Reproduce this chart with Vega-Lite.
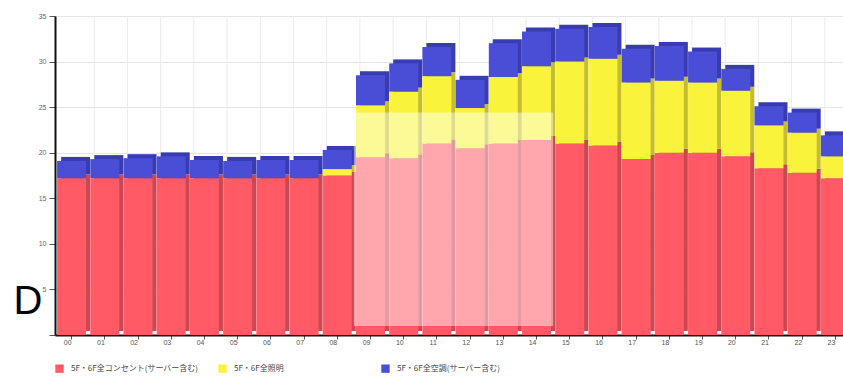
{
  "$schema": "https://vega.github.io/schema/vega-lite/v6.json",
  "width": 788,
  "height": 319,
  "autosize": {"type": "none"},
  "padding": {"left": 55, "top": 16, "right": 0, "bottom": 41},
  "background": "white",
  "config": {"view": {"stroke": null}, "font": "Liberation Sans"},
  "datasets": {
    "hours": [
      {"hour": "00"}, {"hour": "01"}, {"hour": "02"}, {"hour": "03"}, {"hour": "04"}, {"hour": "05"},
      {"hour": "06"}, {"hour": "07"}, {"hour": "08"}, {"hour": "09"}, {"hour": "10"}, {"hour": "11"},
      {"hour": "12"}, {"hour": "13"}, {"hour": "14"}, {"hour": "15"}, {"hour": "16"}, {"hour": "17"},
      {"hour": "18"}, {"hour": "19"}, {"hour": "20"}, {"hour": "21"}, {"hour": "22"}, {"hour": "23"}
    ],
    "usage": [
      {"hour": "00", "series": "5F・6F全コンセント(サーバー含む)", "value": 17.2},
      {"hour": "00", "series": "5F・6F全照明", "value": 0},
      {"hour": "00", "series": "5F・6F全空調(サーバー含む)", "value": 1.9},
      {"hour": "01", "series": "5F・6F全コンセント(サーバー含む)", "value": 17.2},
      {"hour": "01", "series": "5F・6F全照明", "value": 0},
      {"hour": "01", "series": "5F・6F全空調(サーバー含む)", "value": 2.1},
      {"hour": "02", "series": "5F・6F全コンセント(サーバー含む)", "value": 17.2},
      {"hour": "02", "series": "5F・6F全照明", "value": 0},
      {"hour": "02", "series": "5F・6F全空調(サーバー含む)", "value": 2.2},
      {"hour": "03", "series": "5F・6F全コンセント(サーバー含む)", "value": 17.2},
      {"hour": "03", "series": "5F・6F全照明", "value": 0},
      {"hour": "03", "series": "5F・6F全空調(サーバー含む)", "value": 2.4},
      {"hour": "04", "series": "5F・6F全コンセント(サーバー含む)", "value": 17.2},
      {"hour": "04", "series": "5F・6F全照明", "value": 0},
      {"hour": "04", "series": "5F・6F全空調(サーバー含む)", "value": 2.0},
      {"hour": "05", "series": "5F・6F全コンセント(サーバー含む)", "value": 17.2},
      {"hour": "05", "series": "5F・6F全照明", "value": 0},
      {"hour": "05", "series": "5F・6F全空調(サーバー含む)", "value": 1.9},
      {"hour": "06", "series": "5F・6F全コンセント(サーバー含む)", "value": 17.2},
      {"hour": "06", "series": "5F・6F全照明", "value": 0},
      {"hour": "06", "series": "5F・6F全空調(サーバー含む)", "value": 2.0},
      {"hour": "07", "series": "5F・6F全コンセント(サーバー含む)", "value": 17.2},
      {"hour": "07", "series": "5F・6F全照明", "value": 0},
      {"hour": "07", "series": "5F・6F全空調(サーバー含む)", "value": 2.0},
      {"hour": "08", "series": "5F・6F全コンセント(サーバー含む)", "value": 17.5},
      {"hour": "08", "series": "5F・6F全照明", "value": 0.7},
      {"hour": "08", "series": "5F・6F全空調(サーバー含む)", "value": 2.1},
      {"hour": "09", "series": "5F・6F全コンセント(サーバー含む)", "value": 19.5},
      {"hour": "09", "series": "5F・6F全照明", "value": 5.7},
      {"hour": "09", "series": "5F・6F全空調(サーバー含む)", "value": 3.3},
      {"hour": "10", "series": "5F・6F全コンセント(サーバー含む)", "value": 19.4},
      {"hour": "10", "series": "5F・6F全照明", "value": 7.3},
      {"hour": "10", "series": "5F・6F全空調(サーバー含む)", "value": 3.1},
      {"hour": "11", "series": "5F・6F全コンセント(サーバー含む)", "value": 21.0},
      {"hour": "11", "series": "5F・6F全照明", "value": 7.4},
      {"hour": "11", "series": "5F・6F全空調(サーバー含む)", "value": 3.2},
      {"hour": "12", "series": "5F・6F全コンセント(サーバー含む)", "value": 20.5},
      {"hour": "12", "series": "5F・6F全照明", "value": 4.4},
      {"hour": "12", "series": "5F・6F全空調(サーバー含む)", "value": 3.1},
      {"hour": "13", "series": "5F・6F全コンセント(サーバー含む)", "value": 21.0},
      {"hour": "13", "series": "5F・6F全照明", "value": 7.3},
      {"hour": "13", "series": "5F・6F全空調(サーバー含む)", "value": 3.7},
      {"hour": "14", "series": "5F・6F全コンセント(サーバー含む)", "value": 21.4},
      {"hour": "14", "series": "5F・6F全照明", "value": 8.1},
      {"hour": "14", "series": "5F・6F全空調(サーバー含む)", "value": 3.8},
      {"hour": "15", "series": "5F・6F全コンセント(サーバー含む)", "value": 21.0},
      {"hour": "15", "series": "5F・6F全照明", "value": 9.0},
      {"hour": "15", "series": "5F・6F全空調(サーバー含む)", "value": 3.6},
      {"hour": "16", "series": "5F・6F全コンセント(サーバー含む)", "value": 20.8},
      {"hour": "16", "series": "5F・6F全照明", "value": 9.5},
      {"hour": "16", "series": "5F・6F全空調(サーバー含む)", "value": 3.5},
      {"hour": "17", "series": "5F・6F全コンセント(サーバー含む)", "value": 19.3},
      {"hour": "17", "series": "5F・6F全照明", "value": 8.4},
      {"hour": "17", "series": "5F・6F全空調(サーバー含む)", "value": 3.7},
      {"hour": "18", "series": "5F・6F全コンセント(サーバー含む)", "value": 20.0},
      {"hour": "18", "series": "5F・6F全照明", "value": 7.9},
      {"hour": "18", "series": "5F・6F全空調(サーバー含む)", "value": 3.8},
      {"hour": "19", "series": "5F・6F全コンセント(サーバー含む)", "value": 20.0},
      {"hour": "19", "series": "5F・6F全照明", "value": 7.7},
      {"hour": "19", "series": "5F・6F全空調(サーバー含む)", "value": 3.4},
      {"hour": "20", "series": "5F・6F全コンセント(サーバー含む)", "value": 19.6},
      {"hour": "20", "series": "5F・6F全照明", "value": 7.2},
      {"hour": "20", "series": "5F・6F全空調(サーバー含む)", "value": 2.4},
      {"hour": "21", "series": "5F・6F全コンセント(サーバー含む)", "value": 18.3},
      {"hour": "21", "series": "5F・6F全照明", "value": 4.7},
      {"hour": "21", "series": "5F・6F全空調(サーバー含む)", "value": 2.1},
      {"hour": "22", "series": "5F・6F全コンセント(サーバー含む)", "value": 17.8},
      {"hour": "22", "series": "5F・6F全照明", "value": 4.4},
      {"hour": "22", "series": "5F・6F全空調(サーバー含む)", "value": 2.2},
      {"hour": "23", "series": "5F・6F全コンセント(サーバー含む)", "value": 17.2},
      {"hour": "23", "series": "5F・6F全照明", "value": 2.4},
      {"hour": "23", "series": "5F・6F全空調(サーバー含む)", "value": 2.3}
    ]
  },
  "resolve": {"scale": {"color": "independent"}},
  "layer": [
    {
      "data": {"name": "hours"},
      "mark": {"type": "rule", "color": "#ececec", "strokeWidth": 1, "xOffset": 6},
      "encoding": {
        "x": {"field": "hour", "type": "ordinal", "bandPosition": 1,
              "scale": {"type": "band", "range": [0, 797], "paddingInner": 0, "paddingOuter": 0}}
      }
    },
    {
      "data": {"name": "usage"},
      "mark": {"type": "bar", "width": 29, "xOffset": 4, "yOffset": -4},
      "encoding": {
        "x": {"field": "hour", "type": "ordinal"},
        "y": {"field": "value", "type": "quantitative", "stack": "zero", "scale": {"domain": [0, 35], "nice": false}},
        "color": {
          "field": "series", "type": "nominal", "legend": null,
          "scale": {
            "domain": ["5F・6F全コンセント(サーバー含む)", "5F・6F全照明", "5F・6F全空調(サーバー含む)"],
            "range": ["#cc4750", "#c4bd30", "#383cb0"]
          }
        },
        "order": {"field": "series", "sort": "ascending"}
      }
    },
    {
      "data": {"name": "usage"},
      "mark": {"type": "bar", "width": 29},
      "encoding": {
        "x": {
          "field": "hour", "type": "ordinal",
          "axis": {
            "title": null, "labelAngle": 0, "grid": false,
            "domainColor": "#111", "domainWidth": 2,
            "tickColor": "#555", "tickSize": 4,
            "labelFontSize": 7, "labelColor": "#555", "labelPadding": 3
          }
        },
        "y": {
          "field": "value", "type": "quantitative", "stack": "zero",
          "axis": {
            "values": [0, 5, 10, 15, 20, 25, 30, 35],
            "labelExpr": "datum.value == 0 ? '' : datum.label",
            "grid": true, "gridColor": "#e4e4e4",
            "domainColor": "#111", "domainWidth": 2,
            "tickColor": "#555", "tickSize": 6,
            "labelFontSize": 7, "labelColor": "#666", "labelPadding": 3,
            "title": "D", "titleAngle": 0, "titleFont": "Liberation Sans",
            "titleFontSize": 40, "titleFontWeight": "normal", "titleColor": "#000",
            "titleAlign": "left", "titleBaseline": "alphabetic",
            "titleX": -42, "titleY": 297
          }
        },
        "color": {
          "field": "series", "type": "nominal",
          "scale": {
            "domain": ["5F・6F全コンセント(サーバー含む)", "5F・6F全照明", "5F・6F全空調(サーバー含む)"],
            "range": ["#ff5a65", "#faf33c", "#4a4ed6"]
          },
          "legend": {
            "title": null, "orient": "none", "legendX": 0, "legendY": 348,
            "direction": "horizontal", "columns": 3, "gridAlign": "all", "columnPadding": 19,
            "symbolType": "square", "symbolSize": 70, "symbolStrokeWidth": 0,
            "labelFont": "Noto Sans CJK JP", "labelFontSize": 8, "labelColor": "#444", "labelOffset": 7
          }
        },
        "order": {"field": "series", "sort": "ascending"}
      }
    },
    {
      "data": {"name": "hours"},
      "transform": [{"filter": "datum.hour >= '09' && datum.hour <= '14'"}],
      "mark": {"type": "bar", "width": {"band": 1}, "color": "white", "opacity": 0.47},
      "encoding": {
        "x": {"field": "hour", "type": "ordinal"},
        "y": {"datum": 1, "type": "quantitative"},
        "y2": {"datum": 24.4}
      }
    }
  ]
}
